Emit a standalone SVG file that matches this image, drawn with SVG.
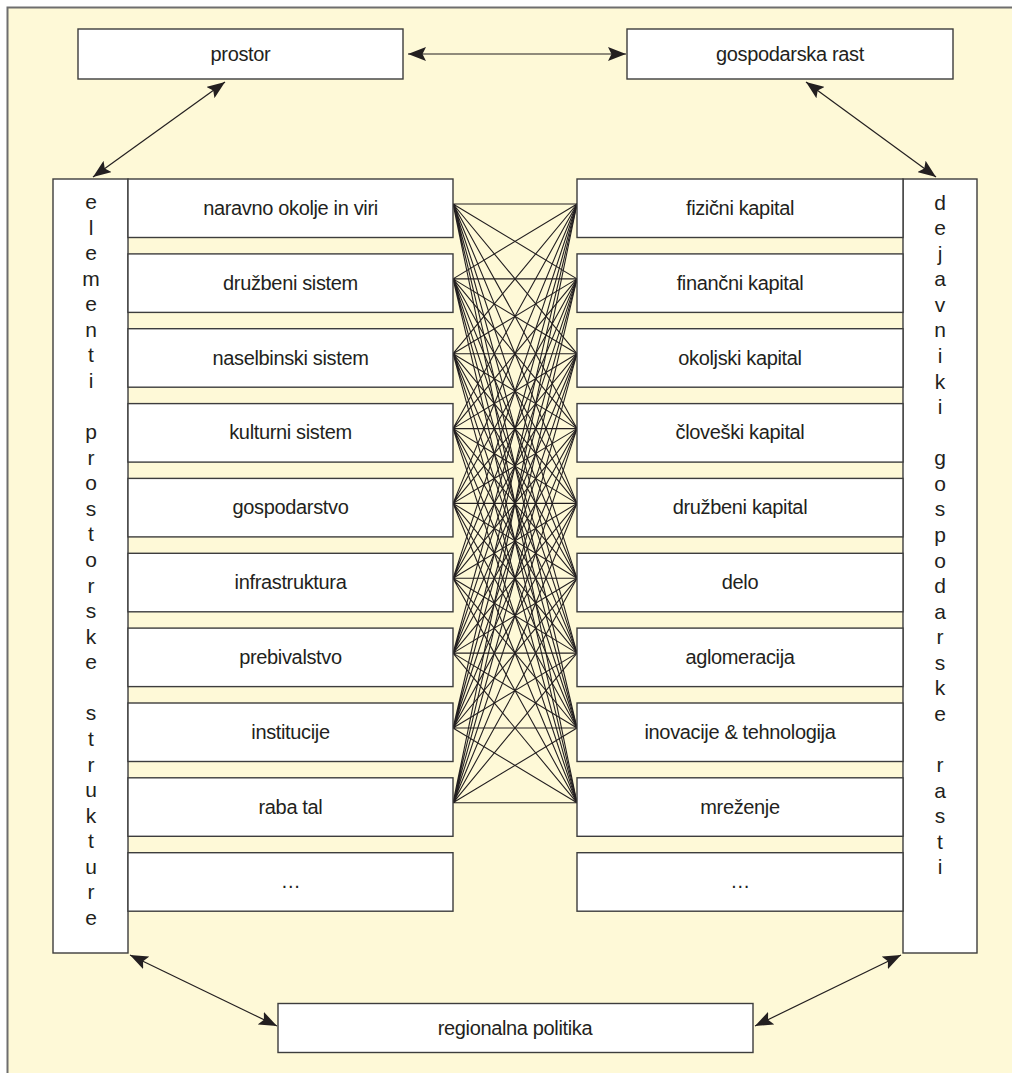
<svg xmlns="http://www.w3.org/2000/svg" width="1012" height="1073" viewBox="0 0 1012 1073">
<defs>
<style>
.bg{fill:#fef9d7;stroke:#6e6e6e;stroke-width:2}
.box{fill:#ffffff;stroke:#3d3d3d;stroke-width:1.4}
.t{font-family:"Liberation Sans",Arial,sans-serif;font-size:20px;fill:#231f20;text-anchor:middle;letter-spacing:-0.35px}
.v{font-family:"Liberation Sans",Arial,sans-serif;font-size:21px;fill:#231f20;text-anchor:middle}
.arr{fill:none;stroke:#231f20;stroke-width:1.2;marker-start:url(#ah);marker-end:url(#ah)}
.x{fill:none;stroke:#231f20;stroke-width:1.1}
</style>
<marker id="ah" markerUnits="userSpaceOnUse" markerWidth="18" markerHeight="14" viewBox="0 0 18 14" refX="18" refY="7" orient="auto-start-reverse">
<path d="M0,0 L18,7 L0,14 L3.5,7 z" fill="#231f20"/>
</marker>
</defs>
<rect class="bg" x="7.5" y="7.5" width="1020" height="1080"/>
<g id="connectors">
<line class="arr" x1="408" y1="54" x2="626" y2="54"/>
<line class="arr" x1="225" y1="82" x2="93" y2="177"/>
<line class="arr" x1="806" y1="82" x2="936" y2="177"/>
<line class="arr" x1="130" y1="955" x2="277" y2="1026"/>
<line class="arr" x1="755" y1="1026" x2="901" y2="955"/>
<path class="x" d="M453,204L577,204M453,204L577,278.9M453,204L577,353.7M453,204L577,428.6M453,204L577,503.4M453,204L577,578.3M453,204L577,653.1M453,204L577,728M453,204L577,802.8"/>
<path class="x" d="M453,278.9L577,204M453,278.9L577,278.9M453,278.9L577,353.7M453,278.9L577,428.6M453,278.9L577,503.4M453,278.9L577,578.3M453,278.9L577,653.1M453,278.9L577,728M453,278.9L577,802.8"/>
<path class="x" d="M453,353.7L577,204M453,353.7L577,278.9M453,353.7L577,353.7M453,353.7L577,428.6M453,353.7L577,503.4M453,353.7L577,578.3M453,353.7L577,653.1M453,353.7L577,728M453,353.7L577,802.8"/>
<path class="x" d="M453,428.6L577,204M453,428.6L577,278.9M453,428.6L577,353.7M453,428.6L577,428.6M453,428.6L577,503.4M453,428.6L577,578.3M453,428.6L577,653.1M453,428.6L577,728M453,428.6L577,802.8"/>
<path class="x" d="M453,503.4L577,204M453,503.4L577,278.9M453,503.4L577,353.7M453,503.4L577,428.6M453,503.4L577,503.4M453,503.4L577,578.3M453,503.4L577,653.1M453,503.4L577,728M453,503.4L577,802.8"/>
<path class="x" d="M453,578.3L577,204M453,578.3L577,278.9M453,578.3L577,353.7M453,578.3L577,428.6M453,578.3L577,503.4M453,578.3L577,578.3M453,578.3L577,653.1M453,578.3L577,728M453,578.3L577,802.8"/>
<path class="x" d="M453,653.1L577,204M453,653.1L577,278.9M453,653.1L577,353.7M453,653.1L577,428.6M453,653.1L577,503.4M453,653.1L577,578.3M453,653.1L577,653.1M453,653.1L577,728M453,653.1L577,802.8"/>
<path class="x" d="M453,728L577,204M453,728L577,278.9M453,728L577,353.7M453,728L577,428.6M453,728L577,503.4M453,728L577,578.3M453,728L577,653.1M453,728L577,728M453,728L577,802.8"/>
<path class="x" d="M453,802.8L577,204M453,802.8L577,278.9M453,802.8L577,353.7M453,802.8L577,428.6M453,802.8L577,503.4M453,802.8L577,578.3M453,802.8L577,653.1M453,802.8L577,728M453,802.8L577,802.8"/>
</g>
<g id="prostor"><rect class="box" x="78" y="29" width="325" height="50"/><text class="t" x="240.5" y="60.5">prostor</text></g>
<g id="gospodarska-rast"><rect class="box" x="627" y="29" width="326" height="50"/><text class="t" x="790" y="60.5">gospodarska rast</text></g>
<g id="regionalna-politika"><rect class="box" x="278" y="1003.5" width="475" height="49"/><text class="t" x="515" y="1034.5">regionalna politika</text></g>
<g id="elementi-prostorske-strukture">
<rect class="box" x="53" y="179" width="75" height="774"/>
<text class="v"><tspan x="91" y="209">e</tspan><tspan x="91" y="234.6">l</tspan><tspan x="91" y="260.1">e</tspan><tspan x="91" y="285.7">m</tspan><tspan x="91" y="311.3">e</tspan><tspan x="91" y="336.9">n</tspan><tspan x="91" y="362.4">t</tspan><tspan x="91" y="388">i</tspan><tspan x="91" y="439.1">p</tspan><tspan x="91" y="464.7">r</tspan><tspan x="91" y="490.3">o</tspan><tspan x="91" y="515.8">s</tspan><tspan x="91" y="541.4">t</tspan><tspan x="91" y="567">o</tspan><tspan x="91" y="592.6">r</tspan><tspan x="91" y="618.1">s</tspan><tspan x="91" y="643.7">k</tspan><tspan x="91" y="669.3">e</tspan><tspan x="91" y="720.4">s</tspan><tspan x="91" y="746">t</tspan><tspan x="91" y="771.5">r</tspan><tspan x="91" y="797.1">u</tspan><tspan x="91" y="822.7">k</tspan><tspan x="91" y="848.3">t</tspan><tspan x="91" y="873.8">u</tspan><tspan x="91" y="899.4">r</tspan><tspan x="91" y="925">e</tspan></text>
</g>
<g id="dejavniki-gospodarske-rasti">
<rect class="box" x="903" y="179" width="74" height="774"/>
<text class="v"><tspan x="940" y="209.5">d</tspan><tspan x="940" y="235.1">e</tspan><tspan x="940" y="260.6">j</tspan><tspan x="940" y="286.2">a</tspan><tspan x="940" y="311.8">v</tspan><tspan x="940" y="337.4">n</tspan><tspan x="940" y="362.9">i</tspan><tspan x="940" y="388.5">k</tspan><tspan x="940" y="414.1">i</tspan><tspan x="940" y="465.2">g</tspan><tspan x="940" y="490.8">o</tspan><tspan x="940" y="516.3">s</tspan><tspan x="940" y="541.9">p</tspan><tspan x="940" y="567.5">o</tspan><tspan x="940" y="593.1">d</tspan><tspan x="940" y="618.6">a</tspan><tspan x="940" y="644.2">r</tspan><tspan x="940" y="669.8">s</tspan><tspan x="940" y="695.3">k</tspan><tspan x="940" y="720.9">e</tspan><tspan x="940" y="772">r</tspan><tspan x="940" y="797.6">a</tspan><tspan x="940" y="823.2">s</tspan><tspan x="940" y="848.8">t</tspan><tspan x="940" y="874.3">i</tspan></text>
</g>
<g id="l1"><rect class="box" x="128" y="179" width="325" height="58.5"/><text class="t" x="290.5" y="214.8">naravno okolje in viri</text></g>
<g id="l2"><rect class="box" x="128" y="253.9" width="325" height="58.5"/><text class="t" x="290.5" y="289.6">družbeni sistem</text></g>
<g id="l3"><rect class="box" x="128" y="328.7" width="325" height="58.5"/><text class="t" x="290.5" y="364.5">naselbinski sistem</text></g>
<g id="l4"><rect class="box" x="128" y="403.6" width="325" height="58.5"/><text class="t" x="290.5" y="439.3">kulturni sistem</text></g>
<g id="l5"><rect class="box" x="128" y="478.4" width="325" height="58.5"/><text class="t" x="290.5" y="514.2">gospodarstvo</text></g>
<g id="l6"><rect class="box" x="128" y="553.3" width="325" height="58.5"/><text class="t" x="290.5" y="589">infrastruktura</text></g>
<g id="l7"><rect class="box" x="128" y="628.1" width="325" height="58.5"/><text class="t" x="290.5" y="663.9">prebivalstvo</text></g>
<g id="l8"><rect class="box" x="128" y="703" width="325" height="58.5"/><text class="t" x="290.5" y="738.7">institucije</text></g>
<g id="l9"><rect class="box" x="128" y="777.8" width="325" height="58.5"/><text class="t" x="290.5" y="813.6">raba tal</text></g>
<g id="l10"><rect class="box" x="128" y="852.7" width="325" height="58.5"/><text class="t" x="290.5" y="888.4">…</text></g>
<g id="r1"><rect class="box" x="577" y="179" width="326" height="58.5"/><text class="t" x="740" y="214.8">fizični kapital</text></g>
<g id="r2"><rect class="box" x="577" y="253.9" width="326" height="58.5"/><text class="t" x="740" y="289.6">finančni kapital</text></g>
<g id="r3"><rect class="box" x="577" y="328.7" width="326" height="58.5"/><text class="t" x="740" y="364.5">okoljski kapital</text></g>
<g id="r4"><rect class="box" x="577" y="403.6" width="326" height="58.5"/><text class="t" x="740" y="439.3">človeški kapital</text></g>
<g id="r5"><rect class="box" x="577" y="478.4" width="326" height="58.5"/><text class="t" x="740" y="514.2">družbeni kapital</text></g>
<g id="r6"><rect class="box" x="577" y="553.3" width="326" height="58.5"/><text class="t" x="740" y="589">delo</text></g>
<g id="r7"><rect class="box" x="577" y="628.1" width="326" height="58.5"/><text class="t" x="740" y="663.9">aglomeracija</text></g>
<g id="r8"><rect class="box" x="577" y="703" width="326" height="58.5"/><text class="t" x="740" y="738.7">inovacije &amp; tehnologija</text></g>
<g id="r9"><rect class="box" x="577" y="777.8" width="326" height="58.5"/><text class="t" x="740" y="813.6">mreženje</text></g>
<g id="r10"><rect class="box" x="577" y="852.7" width="326" height="58.5"/><text class="t" x="740" y="888.4">…</text></g>
</svg>
